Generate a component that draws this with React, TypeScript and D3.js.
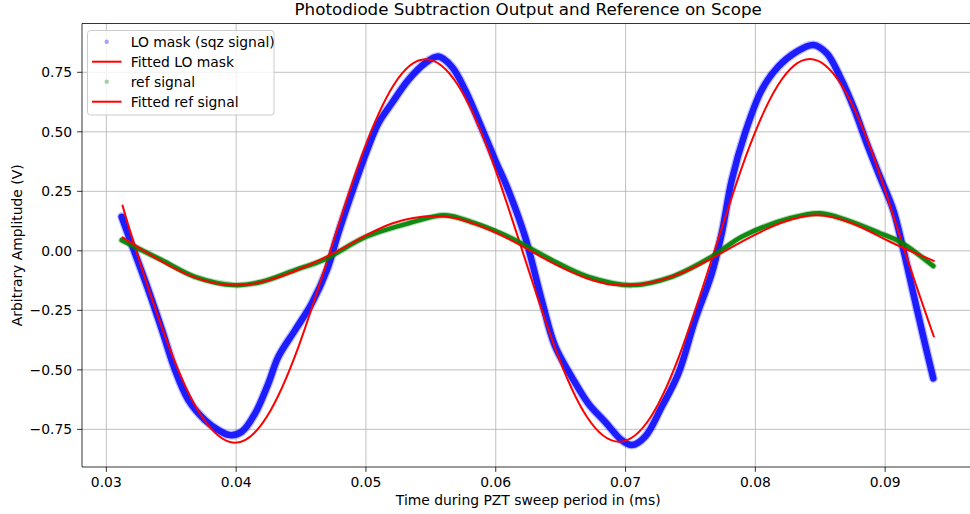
import React from "react";
import * as d3 from "d3";

const loTime = [0.03118,0.03221,0.03324,0.03427,0.03529,0.03632,0.0376,0.03863,0.03953,0.04043,0.04146,0.04248,0.04325,0.04454,0.04582,0.0470,0.04787,0.0489,0.05,0.05096,0.05199,0.05327,0.05455,0.05558,0.05661,0.05764,0.05866,0.05995,0.06097,0.06226,0.06354,0.06457,0.06585,0.06713,0.06842,0.0697,0.07048,0.0715,0.07279,0.07407,0.07535,0.07664,0.07741,0.07818,0.0792,0.08049,0.08177,0.08319,0.08447,0.0855,0.08652,0.08755,0.08858,0.0896,0.09063,0.09141,0.09217,0.09294,0.09371];
const loValue = [0.143,-0.011,-0.165,-0.33,-0.5,-0.627,-0.711,-0.753,-0.774,-0.76,-0.683,-0.557,-0.445,-0.333,-0.221,-0.08,0.074,0.242,0.41,0.536,0.62,0.718,0.788,0.816,0.774,0.676,0.55,0.382,0.255,0.059,-0.207,-0.40,-0.529,-0.641,-0.718,-0.795,-0.816,-0.781,-0.655,-0.515,-0.291,-0.095,0.074,0.297,0.494,0.676,0.774,0.837,0.865,0.83,0.732,0.605,0.452,0.311,0.171,0.003,-0.179,-0.361,-0.536];

const loFitTime = [0.03125,0.0323,0.03483,0.03737,0.0399,0.04235,0.0448,0.04725,0.0497,0.05215,0.0546,0.05708,0.05957,0.06205,0.06453,0.06702,0.0695,0.07195,0.0744,0.07685,0.0793,0.08175,0.0842,0.08663,0.08907,0.0915,0.09375];
const loFitValue = [0.19,0,-0.403,-0.697,-0.806,-0.698,-0.403,0,0.403,0.698,0.805,0.697,0.402,0,-0.402,-0.697,-0.802,-0.697,-0.402,0,0.402,0.697,0.806,0.697,0.402,0,-0.36];

const refTime = [0.03118,0.03427,0.03683,0.0399,0.04197,0.04454,0.04685,0.05,0.05327,0.05609,0.0584,0.06097,0.06457,0.06713,0.07048,0.07356,0.07664,0.07895,0.08267,0.08498,0.08704,0.0896,0.09114,0.09371];
const refValue = [0.045,-0.039,-0.109,-0.144,-0.13,-0.081,-0.035,0.059,0.116,0.15,0.116,0.059,-0.046,-0.109,-0.144,-0.109,-0.025,0.059,0.137,0.158,0.129,0.074,0.038,-0.064];

const refFitTime = [0.03125,0.0335,0.0365,0.0399,0.043,0.046,0.049,0.052,0.0553,0.058,0.061,0.064,0.067,0.0698,0.073,0.076,0.079,0.082,0.0847,0.0875,0.0905,0.09375];
const refFitValue = [0.057,-0.02,-0.105,-0.145,-0.115,-0.05,0.035,0.115,0.146,0.12,0.05,-0.04,-0.115,-0.145,-0.118,-0.05,0.04,0.118,0.15,0.115,0.035,-0.042];

const xTicks = [0.03,0.04,0.05,0.06,0.07,0.08,0.09];
const yTicks = [-0.75,-0.5,-0.25,0,0.25,0.5,0.75];

const legendLabels = ["LO mask (sqz signal)", "Fitted LO mask", "ref signal", "Fitted ref signal"];

const W = 970, H = 514;
const L = 82, R = 974.4, T = 23.5, B = 467;
const FONT = "DejaVu Sans, sans-serif";

export default function App() {
  const x = d3.scaleLinear().domain([0.028125, 0.096875]).range([L, R]);
  const y = d3.scaleLinear().domain([-0.908, 0.955]).range([B, T]);
  const zip = (a: number[], b: number[]) => a.map((t, i) => [t, b[i]] as [number, number]);
  const dataLine = d3.line<[number, number]>().x(d => x(d[0])).y(d => y(d[1])).curve(d3.curveCatmullRom);
  const fitLine = d3.line<[number, number]>().x(d => x(d[0])).y(d => y(d[1])).curve(d3.curveNatural);
  const fmtY = (v: number) => (v < 0 ? "\u2212" : "") + Math.abs(v).toFixed(2);

  const lo = dataLine(zip(loTime, loValue)) || "";
  const loFit = fitLine(zip(loFitTime, loFitValue)) || "";
  const ref = dataLine(zip(refTime, refValue)) || "";
  const refFit = fitLine(zip(refFitTime, refFitValue)) || "";

  return (
    <svg width={W} height={H} style={{ position: "absolute", left: 0, top: 0, background: "#fff" }} fontFamily={FONT}>
      <rect x={0} y={0} width={W} height={H} fill="#fff" />
      <defs>
        <clipPath id="plot"><rect x={L} y={T} width={R - L} height={B - T} /></clipPath>
      </defs>
      {xTicks.map(t => (
        <line key={"gx" + t} x1={x(t)} x2={x(t)} y1={T} y2={B} stroke="#b0b0b0" strokeWidth={0.8} />
      ))}
      {yTicks.map(t => (
        <line key={"gy" + t} x1={L} x2={R} y1={y(t)} y2={y(t)} stroke="#b0b0b0" strokeWidth={0.8} />
      ))}
      <g clipPath="url(#plot)" fill="none" strokeLinecap="round" strokeLinejoin="round">
        <path d={lo} stroke="#0000ff" strokeOpacity={0.25} strokeWidth={9} />
        <path d={lo} stroke="#0000ff" strokeOpacity={0.85} strokeWidth={6.5} />
        <path d={loFit} stroke="#ff0000" strokeWidth={2} />
        <path d={ref} stroke="#008000" strokeOpacity={0.3} strokeWidth={6.5} />
        <path d={ref} stroke="#008000" strokeOpacity={0.9} strokeWidth={4.5} />
        <path d={refFit} stroke="#ff0000" strokeWidth={2} />
      </g>
      <line x1={L} x2={L} y1={T} y2={B} stroke="#000" strokeWidth={0.8} />
      <line x1={L} x2={R} y1={B} y2={B} stroke="#000" strokeWidth={0.8} />
      <line x1={L} x2={R} y1={T} y2={T} stroke="#000" strokeWidth={0.8} />
      <line x1={R} x2={R} y1={T} y2={B} stroke="#000" strokeWidth={0.8} />
      {xTicks.map(t => (
        <g key={"xt" + t}>
          <line x1={x(t)} x2={x(t)} y1={B} y2={B + 4.9} stroke="#000" strokeWidth={0.8} />
          <text x={x(t)} y={487.3} fontSize={13.9} textAnchor="middle" fill="#000">{t.toFixed(2)}</text>
        </g>
      ))}
      {yTicks.map(t => (
        <g key={"yt" + t}>
          <line x1={L - 4.9} x2={L} y1={y(t)} y2={y(t)} stroke="#000" strokeWidth={0.8} />
          <text x={L - 9.8} y={y(t) + 5} fontSize={13.9} textAnchor="end" fill="#000">{fmtY(t)}</text>
        </g>
      ))}
      <text x={(L + R) / 2} y={15.2} fontSize={16.7} textAnchor="middle" fill="#000">Photodiode Subtraction Output and Reference on Scope</text>
      <text x={(L + R) / 2} y={505} fontSize={13.9} textAnchor="middle" fill="#000">Time during PZT sweep period in (ms)</text>
      <text transform={`translate(22,${(T + B) / 2}) rotate(-90)`} fontSize={13.9} textAnchor="middle" fill="#000">Arbitrary Amplitude (V)</text>
      <g>
        <rect x={87.5} y={30.5} width={186.5} height={84.5} rx={3} fill="#fff" fillOpacity={0.8} stroke="#cccccc" strokeWidth={1} />
        {legendLabels.map((lab, i) => {
          const cy = 41.7 + i * 20;
          return (
            <g key={lab}>
              {i === 0 && <circle cx={106.7} cy={cy} r={2.2} fill="#0000ff" fillOpacity={0.35} />}
              {i === 2 && <circle cx={106.7} cy={cy} r={2.2} fill="#008000" fillOpacity={0.35} />}
              {(i === 1 || i === 3) && <line x1={92} x2={121.5} y1={cy} y2={cy} stroke="#ff0000" strokeWidth={2} />}
              <text x={130.7} y={cy + 5} fontSize={13.9} fill="#000">{lab}</text>
            </g>
          );
        })}
      </g>
    </svg>
  );
}
